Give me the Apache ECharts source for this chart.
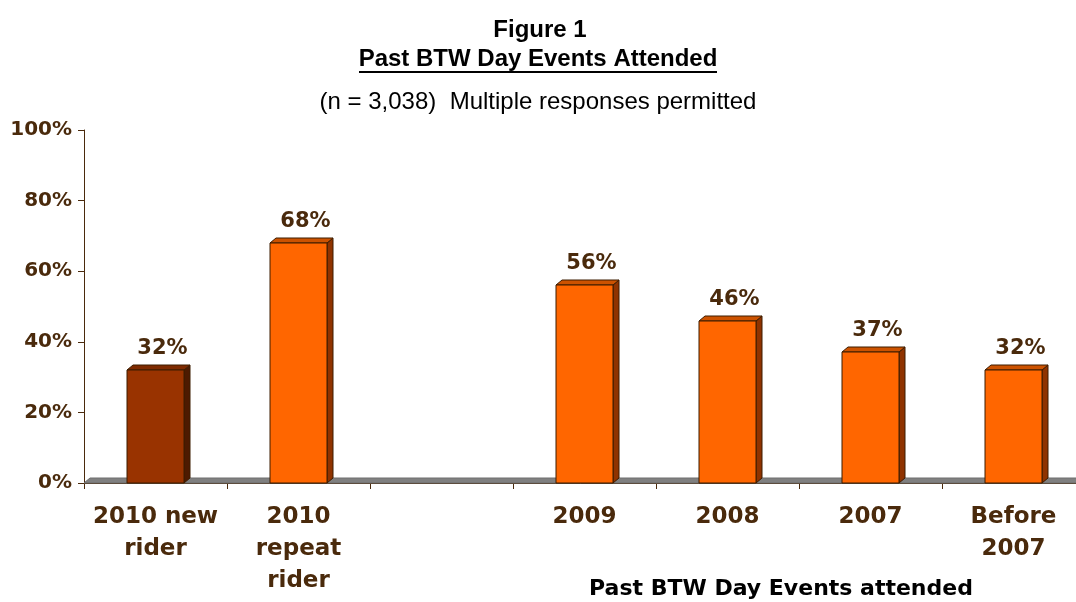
<!DOCTYPE html>
<html>
<head>
<meta charset="utf-8">
<title>Past BTW Day Events Attended</title>
<script src="https://cdn.jsdelivr.net/npm/echarts@6/dist/echarts.min.js"></script>
<style>
  html, body { margin: 0; padding: 0; background: #fff; }
  #chart { width: 1076px; height: 602px; }
</style>
</head>
<body>
<div id="chart"></div>
<script>
// categories along the x axis (the third slot is an empty gap in the original)
var categories = ['2010 new\nrider', '2010\nrepeat\nrider', '', '2009', '2008', '2007', 'Before\n2007']
// percent of respondents
var attended = [32, 68, null, 56, 46, 37, 32]
var yTicks = [0, 20, 40, 60, 80, 100]

var brown = '#4a2a0c'
var depthX = 6
var depthY = 5

var chart = echarts.init(document.getElementById('chart'))

function renderFloor(params, api) {
  var cs = params.coordSys
  var yb = cs.y + cs.height
  return {
    type: 'polygon',
    shape: {
      points: [[cs.x, yb], [cs.x + depthX, yb - depthY], [cs.x + cs.width + depthX, yb - depthY], [cs.x + cs.width, yb]]
    },
    style: { fill: '#808080', stroke: '#6e6e6e', lineWidth: 1 }
  }
}

function renderBar(params, api) {
  var v = api.value(1)
  if (v == null || isNaN(v)) {
    return
  }
  var top = api.coord([api.value(0), v])
  var base = api.coord([api.value(0), 0])
  var w = api.size([1, 0])[0] * 0.4
  var x0 = Math.round(top[0] - w / 2)
  var x1 = Math.round(top[0] + w / 2)
  var y0 = Math.round(top[1])
  var y1 = Math.round(base[1])
  var isNew = params.dataIndex === 0
  var front = isNew ? '#993300' : '#ff6600'
  var roof = isNew ? '#7e2a00' : '#cc5200'
  var side = isNew ? '#4d1a00' : '#8f3300'
  var edge = { stroke: '#3d1c00', lineWidth: 1 }
  return {
    type: 'group',
    children: [
      {
        type: 'polygon',
        shape: { points: [[x1, y0], [x1 + depthX, y0 - depthY], [x1 + depthX, y1 - depthY], [x1, y1]] },
        style: Object.assign({ fill: side }, edge)
      },
      {
        type: 'polygon',
        shape: { points: [[x0, y0], [x0 + depthX, y0 - depthY], [x1 + depthX, y0 - depthY], [x1, y0]] },
        style: Object.assign({ fill: roof }, edge)
      },
      {
        type: 'rect',
        shape: { x: x0, y: y0, width: x1 - x0, height: y1 - y0 },
        style: Object.assign({ fill: front }, edge)
      },
      {
        type: 'text',
        x: (x0 + x1) / 2 + 7,
        y: y0 - 21,
        style: {
          text: v + '%',
          fill: brown,
          font: 'bold 21px "DejaVu Sans", sans-serif',
          align: 'center',
          verticalAlign: 'middle'
        }
      }
    ]
  }
}

chart.setOption({
  backgroundColor: '#fff',
  animation: false,
  grid: {
    left: 84,
    width: 1001,
    top: 130,
    bottom: 119,
    outerBoundsMode: 'none'
  },
  xAxis: {
    type: 'category',
    data: categories,
    axisLine: { lineStyle: { color: brown, width: 1 } },
    axisTick: { show: true, length: 6, lineStyle: { color: brown } },
    axisLabel: {
      interval: 0,
      margin: 18,
      color: brown,
      fontFamily: 'DejaVu Sans',
      fontWeight: 'bold',
      fontSize: 23,
      lineHeight: 32,
      verticalAlign: 'top'
    },
    splitLine: { show: false }
  },
  yAxis: {
    type: 'value',
    min: yTicks[0],
    max: yTicks[yTicks.length - 1],
    interval: 20,
    axisLine: { show: true, lineStyle: { color: brown, width: 1 } },
    axisTick: { show: true, length: 6, lineStyle: { color: brown } },
    axisLabel: {
      margin: 12,
      color: brown,
      fontFamily: 'DejaVu Sans',
      fontWeight: 'bold',
      fontSize: 20,
      formatter: '{value}%'
    },
    splitLine: { show: false }
  },
  graphic: [
    {
      type: 'text',
      x: 540,
      y: 30,
      style: { text: 'Figure 1', font: 'bold 24px "Liberation Sans", Arial, sans-serif', fill: '#000', align: 'center', verticalAlign: 'middle' }
    },
    {
      type: 'text',
      x: 538,
      y: 59,
      style: { text: 'Past BTW Day Events Attended', font: 'bold 24px "Liberation Sans", Arial, sans-serif', fill: '#000', align: 'center', verticalAlign: 'middle' }
    },
    {
      type: 'line',
      shape: { x1: 359, y1: 72, x2: 717, y2: 72 },
      style: { stroke: '#000', lineWidth: 2 }
    },
    {
      type: 'text',
      x: 538,
      y: 102,
      style: { text: '(n = 3,038)  Multiple responses permitted', font: '24px "Liberation Sans", Arial, sans-serif', fill: '#000', align: 'center', verticalAlign: 'middle' }
    },
    {
      type: 'text',
      x: 781,
      y: 589,
      style: { text: 'Past BTW Day Events attended', font: 'bold 22px "DejaVu Sans", sans-serif', fill: '#000', align: 'center', verticalAlign: 'middle' }
    }
  ],
  series: [
    {
      name: 'floor',
      type: 'custom',
      z: 1,
      silent: true,
      renderItem: renderFloor,
      data: [[0, 0]]
    },
    {
      name: 'attended',
      type: 'custom',
      z: 3,
      renderItem: renderBar,
      encode: { x: 0, y: 1 },
      data: attended.map(function(v, i) {
        return [i, v == null ? NaN : v]
      })
    }
  ]
})
</script>
</body>
</html>
